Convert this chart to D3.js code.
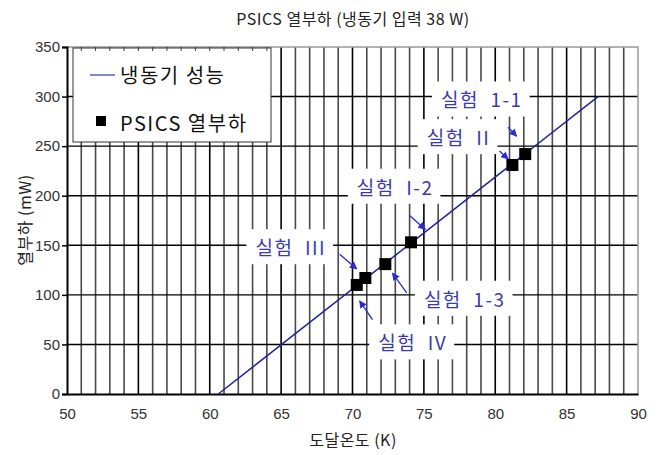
<!DOCTYPE html>
<html>
<head>
<meta charset="utf-8">
<script src="https://cdn.jsdelivr.net/npm/d3@7"></script>
<style>
  body { margin: 0; background: #fff; }
  text { font-family: "Liberation Sans", Arial, sans-serif; }
  .kr { font-family: "Noto Sans CJK KR", "Liberation Sans", sans-serif; }
</style>
</head>
<body>
<script>
// chart values
var x_ticks = [50, 55, 60, 65, 70, 75, 80, 85, 90];
var y_ticks = [0, 50, 100, 150, 200, 250, 300, 350];
var line_T = [60.6, 87.2];
var line_Q = [0, 300];
var point_T = [70.3, 70.9, 72.3, 74.1, 81.2, 82.1];
var point_Q = [110, 117, 131, 153, 231, 242];
var note_text = ["실험  1-1", "실험  II", "실험  I-2", "실험  III", "실험  1-3", "실험  IV"];
var note_T = [76.2, 75.2, 70.3, 63.2, 75.0, 71.8];
var note_Q = [289, 251, 201, 140, 88, 44];
var arrow_from_T = [80.9, 80.3, 74.0, 69.1, 73.8, 71.4];
var arrow_from_Q = [269, 245, 180, 141, 102, 75];
var arrow_to_T = [81.5, 80.9, 75.1, 70.3, 72.8, 70.5];
var arrow_to_Q = [260, 237, 166, 126, 122, 94];

var width = 668;
var height = 455;
var m_left = 67, m_right = 638, m_top = 47, m_bottom = 394;

var svg = d3.select('body').append('svg')
      .attr('width', width)
      .attr('height', height);

var x = d3.scaleLinear().domain([50, 90]).range([m_left, m_right]);
var y = d3.scaleLinear().domain([0, 350]).range([m_bottom, m_top]);

var blue = '#22229a';
var note_blue = '#3a3aae';

svg.append('defs').append('marker')
    .attr('id', 'arr')
    .attr('viewBox', '0 0 10 10')
    .attr('refX', 9).attr('refY', 5)
    .attr('markerWidth', 6).attr('markerHeight', 6)
    .attr('orient', 'auto')
    .append('path')
    .attr('d', 'M0,0 L10,5 L0,10 z')
    .attr('fill', '#2a2ad0');

// vertical grid, one per kelvin
var minor = d3.range(51, 90);
svg.append('g').selectAll('line')
    .data(minor)
    .enter()
    .append('line')
    .attr('x1', function (d) { return x(d); })
    .attr('x2', function (d) { return x(d); })
    .attr('y1', m_top)
    .attr('y2', m_bottom)
    .attr('stroke', function (d) { return d % 5 == 0 ? '#000' : '#4a4a4a'; })
    .attr('stroke-width', 1.6);

// horizontal grid
svg.append('g').selectAll('line')
    .data(y_ticks.filter(function (d) { return d > 0 && d < 350; }))
    .enter()
    .append('line')
    .attr('x1', m_left)
    .attr('x2', m_right)
    .attr('y1', function (d) { return y(d); })
    .attr('y2', function (d) { return y(d); })
    .attr('stroke', '#000')
    .attr('stroke-width', 1.4);

// top and right border
svg.append('path')
    .attr('d', 'M' + m_left + ',' + m_top + 'H' + m_right + 'V' + m_bottom)
    .attr('fill', 'none')
    .attr('stroke', '#999')
    .attr('stroke-width', 1.5);

// legend box covers the grid
var legend = svg.append('g');
legend.append('rect')
    .attr('x', 73).attr('y', m_top + 1)
    .attr('width', 198).attr('height', 94)
    .attr('fill', '#fff')
    .attr('stroke', '#333')
    .attr('stroke-width', 1);

// small top ticks over legend
svg.append('g').selectAll('line')
    .data(minor.filter(function (d) { return x(d) > 73 && x(d) < 271; }))
    .enter()
    .append('line')
    .attr('x1', function (d) { return x(d); })
    .attr('x2', function (d) { return x(d); })
    .attr('y1', m_top)
    .attr('y2', m_top + 4)
    .attr('stroke', '#444')
    .attr('stroke-width', 1);

legend.append('line')
    .attr('x1', 90).attr('x2', 115)
    .attr('y1', 75).attr('y2', 75)
    .attr('stroke', '#5c5cc8').attr('stroke-width', 1.5);
legend.append('text')
    .attr('class', 'kr')
    .attr('x', 120).attr('y', 83)
    .attr('font-size', 20)
    .attr('letter-spacing', 1.5)
    .attr('fill', '#111')
    .text('냉동기 성능');
legend.append('rect')
    .attr('x', 96).attr('y', 116)
    .attr('width', 10).attr('height', 10)
    .attr('fill', '#000');
legend.append('text')
    .attr('class', 'kr')
    .attr('x', 120).attr('y', 131)
    .attr('font-size', 20)
    .attr('letter-spacing', 1.5)
    .attr('fill', '#111')
    .text('PSICS 열부하');

// axes
var xAxis = svg.append('g')
    .attr('transform', 'translate(0,' + m_bottom + ')')
    .call(d3.axisBottom(x).tickValues(x_ticks).tickSize(0).tickPadding(14));
xAxis.select('.domain').attr('stroke', '#000').attr('stroke-width', 2);
xAxis.selectAll('text').attr('font-size', 15).attr('fill', '#333')
    .attr('font-family', '"Liberation Sans", Arial, sans-serif');

var yAxis = svg.append('g')
    .attr('transform', 'translate(' + m_left + ',0)')
    .call(d3.axisLeft(y).tickValues(y_ticks).tickSize(5).tickPadding(2));
yAxis.select('.domain').attr('stroke', '#000').attr('stroke-width', 2);
yAxis.selectAll('line').attr('stroke', '#000').attr('stroke-width', 1.5);
yAxis.selectAll('text').attr('font-size', 15).attr('fill', '#333')
    .attr('font-family', '"Liberation Sans", Arial, sans-serif');

// performance line
svg.append('line')
    .attr('x1', x(line_T[0])).attr('y1', y(line_Q[0]))
    .attr('x2', x(line_T[1])).attr('y2', y(line_Q[1]))
    .attr('stroke', blue)
    .attr('stroke-width', 1.5);

// notes with white boxes
var notes = svg.append('g').selectAll('g')
    .data(note_text)
    .enter()
    .append('g');
notes.append('text')
    .attr('class', 'kr')
    .attr('x', function (d, i) { return x(note_T[i]); })
    .attr('y', function (d, i) { return y(note_Q[i]); })
    .attr('font-size', 19)
    .attr('letter-spacing', 1.5)
    .attr('fill', note_blue)
    .style('white-space', 'pre')
    .text(function (d) { return d; });
notes.each(function () {
    var g = d3.select(this);
    var b = g.select('text').node().getBBox();
    g.insert('rect', 'text')
        .attr('x', b.x - 9).attr('y', b.y - 4)
        .attr('width', b.width + 16).attr('height', b.height + 8)
        .attr('fill', '#fff');
});

// arrows
svg.append('g').selectAll('line')
    .data(arrow_from_T)
    .enter()
    .append('line')
    .attr('x1', function (d, i) { return x(d); })
    .attr('y1', function (d, i) { return y(arrow_from_Q[i]); })
    .attr('x2', function (d, i) { return x(arrow_to_T[i]); })
    .attr('y2', function (d, i) { return y(arrow_to_Q[i]); })
    .attr('stroke', '#2a2ad0')
    .attr('stroke-width', 1.3)
    .attr('marker-end', 'url(#arr)');

// measured points
svg.append('g').selectAll('rect')
    .data(point_T)
    .enter()
    .append('rect')
    .attr('x', function (d) { return x(d) - 6; })
    .attr('y', function (d, i) { return y(point_Q[i]) - 6; })
    .attr('width', 12)
    .attr('height', 12)
    .attr('fill', '#000');

// titles
svg.append('text')
    .attr('class', 'kr')
    .attr('x', 353).attr('y', 25)
    .attr('text-anchor', 'middle')
    .attr('font-size', 16)
    .attr('letter-spacing', 0.5)
    .attr('fill', '#222')
    .text('PSICS 열부하 (냉동기 입력 38 W)');
svg.append('text')
    .attr('class', 'kr')
    .attr('x', 353).attr('y', 446)
    .attr('text-anchor', 'middle')
    .attr('font-size', 16)
    .attr('letter-spacing', 0.5)
    .attr('fill', '#222')
    .text('도달온도 (K)');
svg.append('text')
    .attr('class', 'kr')
    .attr('transform', 'translate(31,220) rotate(-90)')
    .attr('text-anchor', 'middle')
    .attr('font-size', 16)
    .attr('letter-spacing', 0.5)
    .attr('fill', '#222')
    .text('열부하 (mW)');
</script>
</body>
</html>
